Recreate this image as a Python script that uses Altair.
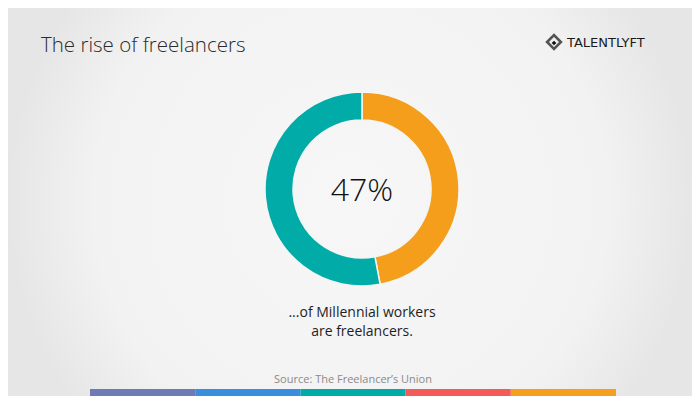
import altair as alt
import pandas as pd

# data
slice_labels = ["Freelancers", "Others"]
slice_values = [47, 53]
slice_colors = ["#F59E1B", "#00ABA8"]

strip_segments = ["s1", "s2", "s3", "s4", "s5"]
strip_colors = ["#6F7BB6", "#3A8EDE", "#00ABA8", "#F35B59", "#F69F1D"]

title_text = "The rise of freelancers"
center_text = "47%"
caption_line1 = "...of Millennial workers"
caption_line2 = "are freelancers."
source_text = "Source: The Freelancer\u2019s Union"
logo_text = "TALENTLYFT"

W, H = 684, 388
CX, CY = 354, 181

one = pd.DataFrame({"a": [0]})

bg = alt.Chart(one).mark_rect(
    fill={
        "gradient": "radial",
        "stops": [
            {"offset": 0, "color": "#f7f7f7"},
            {"offset": 0.75, "color": "#f2f2f2"},
            {"offset": 1, "color": "#e6e6e6"},
        ],
    }
).encode(x=alt.value(0), x2=alt.value(W), y=alt.value(0), y2=alt.value(H))

slices = pd.DataFrame({"label": slice_labels, "value": slice_values,
                       "col": slice_colors, "order": [0, 1]})
donut = alt.Chart(slices).mark_arc(
    radius=97, radius2=69, stroke="#f5f5f5", strokeWidth=1.5
).encode(
    theta=alt.Theta("value:Q", stack=True),
    order=alt.Order("order:Q"),
    color=alt.Color("col:N", scale=None),
    x=alt.value(CX), y=alt.value(CY),
)

strip = pd.DataFrame({"seg": strip_segments, "col": strip_colors})
bars = alt.Chart(strip).mark_bar().encode(
    x=alt.X("seg:N", scale=alt.Scale(domain=strip_segments, range=[82, 608],
                                     paddingInner=0, paddingOuter=0), axis=None),
    y=alt.value(381), y2=alt.value(H),
    color=alt.Color("col:N", scale=None),
)

def txt(text, x, y, size, color="#222222", align="center", baseline="alphabetic",
        weight=400, font="Open Sans", **kw):
    return alt.Chart(one).mark_text(
        text=text, fontSize=size, color=color, align=align, baseline=baseline,
        fontWeight=weight, font=font, **kw
    ).encode(x=alt.value(x), y=alt.value(y))

title = txt(title_text, 33, 44, 20.5, color="#2b2b2b", align="left", weight=300)
center = txt(center_text, CX, 183, 32, color="#111111", baseline="middle", weight=300)
caption1 = txt(caption_line1, CX, 309, 14, color="#1e1e1e")
caption2 = txt(caption_line2, CX, 328, 14, color="#1e1e1e")
source = txt(source_text, 345, 375, 11, color="#8a8a8a")
logo = txt(logo_text, 559, 38.5, 13, color="#1a1a1a", align="left", weight=400, font="DejaVu Sans")

logo_icon = alt.Chart(one).mark_point(
    shape="diamond", size=190, filled=False, stroke="#111111", strokeWidth=2.6
).encode(x=alt.value(546), y=alt.value(34))
logo_dot = alt.Chart(one).mark_point(
    shape="diamond", size=22, filled=True, color="#111111", opacity=1
).encode(x=alt.value(546), y=alt.value(35))

chart = alt.layer(bg, donut, bars, title, center, caption1, caption2, source, logo,
                  logo_icon, logo_dot).properties(
    width=W, height=H, autosize=alt.AutoSizeParams(type="none"), padding=0,
    background="#eeeeee",
).configure_view(stroke=None)

chart.save("out.html", embed_options={"renderer": "svg", "actions": False})
